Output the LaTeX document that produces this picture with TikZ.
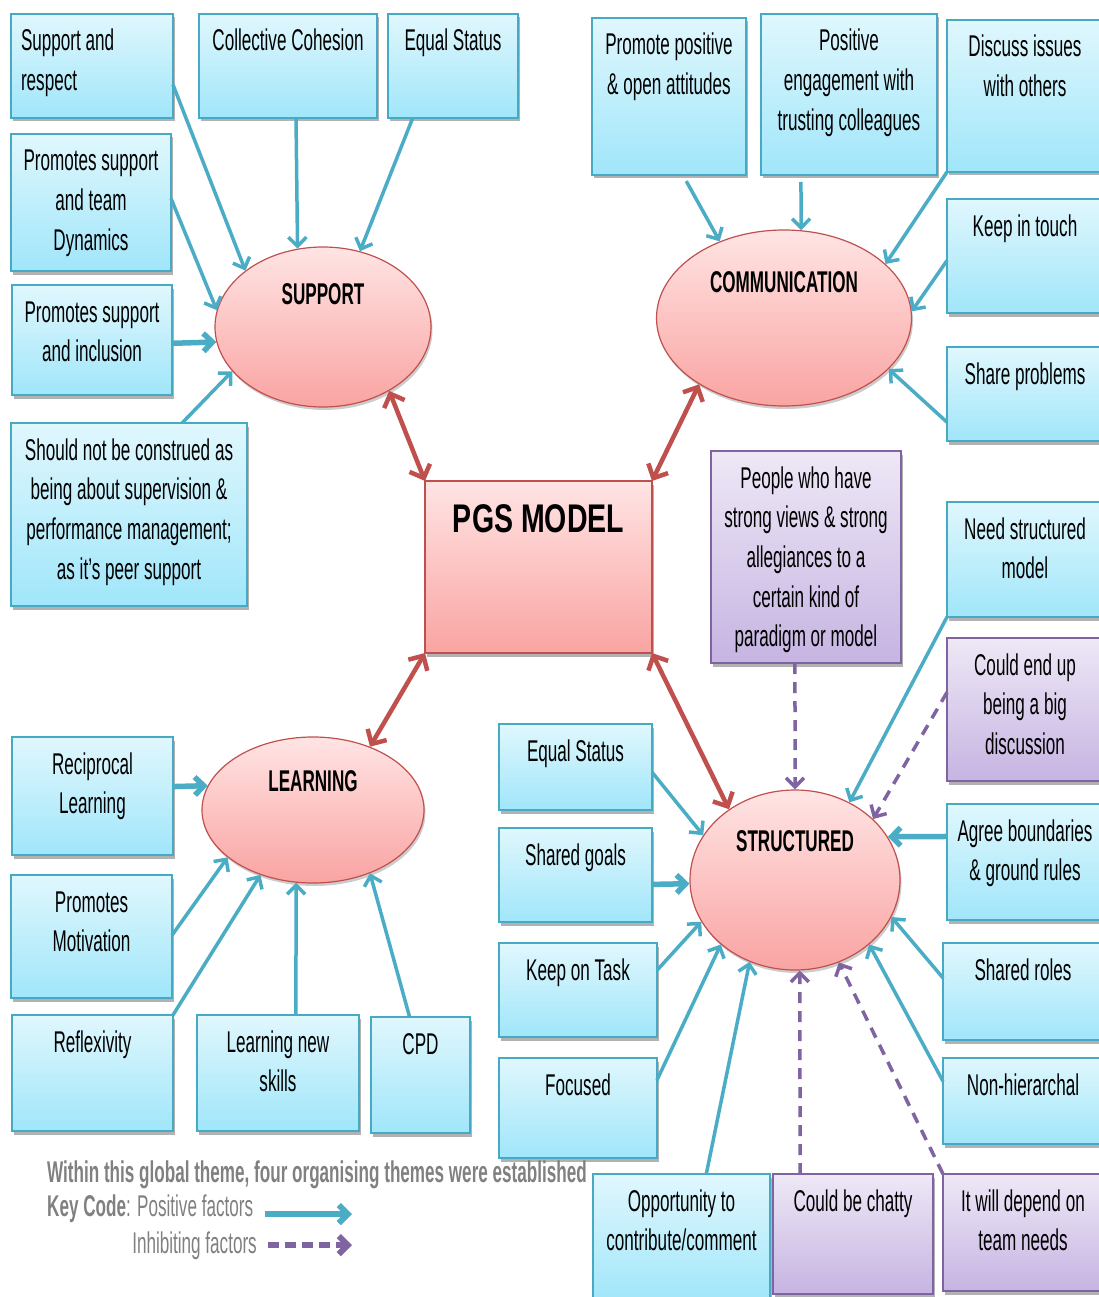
\documentclass[tikz,border=0pt]{standalone}
\usepackage{fontspec}
\setmainfont[FakeStretch=0.57]{Liberation Sans}
\usepackage{graphicx}
\usetikzlibrary{arrows.meta,shapes.geometric,shadows,calc}

\definecolor{bluetop}{RGB}{224,247,253}
\definecolor{bluebot}{RGB}{160,230,250}
\definecolor{bluedge}{RGB}{70,170,197}
\definecolor{purptop}{RGB}{238,232,246}
\definecolor{purpbot}{RGB}{198,180,226}
\definecolor{purpedge}{RGB}{128,100,162}
\definecolor{redtop}{RGB}{255,228,228}
\definecolor{redbot}{RGB}{249,164,162}
\definecolor{redge}{RGB}{192,80,77}
\definecolor{posline}{RGB}{75,172,198}
\definecolor{inhline}{RGB}{128,100,162}
\definecolor{linkred}{RGB}{192,80,77}
\definecolor{legendgray}{RGB}{128,128,128}

\tikzset{
  every node/.style={font=\fontsize{30}{39.7}\selectfont},
  softshadow/.style={drop shadow={shadow xshift=1.5pt, shadow yshift=-3.5pt, fill=black, opacity=0.3}},
  bluebox/.style={draw=bluedge, line width=1.6pt, top color=bluetop, bottom color=bluebot, softshadow},
  purpbox/.style={draw=purpedge, line width=1.6pt, top color=purptop, bottom color=purpbot, softshadow},
  pgsbox/.style={draw=redge, line width=1.2pt, top color=redtop, bottom color=redbot, softshadow},
  theme/.style={ellipse, draw=redge, line width=1.2pt, top color=redtop, bottom color=redbot, inner sep=0pt,
    drop shadow={shadow xshift=1.5pt, shadow yshift=-3pt, fill=black, opacity=0.2}},
  posarrow/.style={draw=posline, line width=3.5pt, -{Straight Barb[length=9pt,width=18pt]}},
  heavy/.style={line width=5.5pt},
  inharrow/.style={draw=inhline, line width=3.5pt, dash pattern=on 11pt off 8pt, -{Straight Barb[length=9pt,width=18pt]}},
  linkarrow/.style={draw=linkred, line width=4.5pt, {Straight Barb[length=11pt,width=22pt]}-{Straight Barb[length=11pt,width=22pt]}},
  keytext/.style={inner sep=0pt, text=legendgray, font=\fontsize{30}{34}\selectfont},
}

% #1 alignment, #2 style, #3 name, #4 x1, #5 y1, #6 x2, #7 y2, #8 text (top-aligned)
\newcommand{\tbox}[8][\centering]{%
  \node[#2, anchor=north west, inner sep=0pt, outer sep=0pt] (#3) at (#4,#5)
    {\begin{minipage}[c][\dimexpr#7pt-#5pt\relax][t]{\dimexpr#6pt-#4pt\relax}#1\rule{0pt}{37pt}#8\end{minipage}};}

\begin{document}
\begin{tikzpicture}[x=1pt, y=-1pt]
  \path[use as bounding box] (0,0) rectangle (1099,1297);
  \clip (0,0) rectangle (1099,1297);

  % ---------- SUPPORT ----------
  \tbox[\raggedright\leftskip=10pt\relax]{bluebox}{srespect}{11}{14}{173}{118}{Support and\\respect}
  \tbox{bluebox}{scohesion}{199}{14}{377}{118}{Collective Cohesion}
  \tbox{bluebox}{sequal}{388}{14}{518}{118}{Equal Status}
  \tbox{bluebox}{sdynamics}{11}{134}{171}{271}{Promotes support\\and team\\Dynamics}
  \tbox{bluebox}{sinclusion}{12}{285}{172}{395}{Promotes support\\and inclusion}
  \tbox{bluebox}{snotsup}{11}{423}{247}{606}{Should not be construed as\\being about supervision \&\\performance management;\\as it's peer support}
  \node[theme, minimum width=216pt, minimum height=160pt] (support) at (323,327)
    {\raisebox{23pt}[0pt][0pt]{\bfseries SUPPORT}};

  % ---------- COMMUNICATION ----------
  \tbox{bluebox}{cpromote}{592}{18}{746}{175}{Promote positive\\\& open attitudes}
  \tbox{bluebox}{cengage}{761}{14}{937}{175}{Positive\\engagement with\\trusting colleagues}
  \tbox{bluebox}{cdiscuss}{947}{20}{1103}{172}{Discuss issues\\with others}
  \tbox{bluebox}{ctouch}{947}{199}{1103}{313}{Keep in touch}
  \tbox{bluebox}{cshare}{947}{347}{1103}{441}{Share problems}
  \node[theme, minimum width=255pt, minimum height=176pt] (communication) at (784,318)
    {\raisebox{26pt}[0pt][0pt]{\bfseries COMMUNICATION}};

  % ---------- PGS MODEL ----------
  \tbox[\centering\vspace*{14pt}\fontsize{40}{48}\selectfont\bfseries]{pgsbox}{pgs}{425}{481}{652}{653}{\scalebox{1.25}[1]{PGS MODEL}}

  % ---------- STRUCTURED ----------
  \tbox{purpbox}{people}{711}{451}{901}{663}{People who have\\strong views \& strong\\allegiances to a\\certain kind of\\paradigm or model}
  \tbox{bluebox}{tneed}{947}{502}{1103}{617}{Need structured\\model}
  \tbox{purpbox}{tbigdisc}{947}{638}{1103}{781}{Could end up\\being a big\\discussion}
  \tbox{bluebox}{tagree}{947}{804}{1103}{920}{Agree boundaries\\\& ground rules}
  \tbox{bluebox}{troles}{943}{943}{1103}{1040}{Shared roles}
  \tbox{bluebox}{thier}{943}{1058}{1103}{1144}{Non-hierarchal}
  \tbox{purpbox}{tdepend}{943}{1174}{1103}{1291}{It will depend on\\team needs}
  \tbox{purpbox}{tchatty}{773}{1174}{933}{1294}{Could be chatty}
  \tbox{bluebox}{topport}{593}{1174}{770}{1302}{Opportunity to\\contribute/comment}
  \tbox{bluebox}{tequal}{499}{724}{652}{810}{Equal Status}
  \tbox{bluebox}{tgoals}{499}{828}{652}{922}{Shared goals}
  \tbox{bluebox}{ttask}{499}{943}{657}{1037}{Keep on Task}
  \tbox{bluebox}{tfocus}{499}{1058}{657}{1158}{Focused}
  \node[theme, minimum width=210pt, minimum height=180pt] (structured) at (795,880)
    {\raisebox{29pt}[0pt][0pt]{\bfseries STRUCTURED}};

  % ---------- LEARNING ----------
  \tbox{bluebox}{lrecip}{12}{737}{173}{855}{Reciprocal\\Learning}
  \tbox{bluebox}{lmotiv}{11}{875}{172}{998}{Promotes\\Motivation}
  \tbox{bluebox}{lreflex}{12}{1015}{173}{1131}{Reflexivity}
  \tbox{bluebox}{lnew}{197}{1015}{359}{1131}{Learning new\\skills}
  \tbox{bluebox}{lcpd}{371}{1017}{470}{1133}{CPD}
  \node[theme, minimum width=222pt, minimum height=146pt] (learning) at (313,810)
    {\raisebox{19pt}[0pt][0pt]{\bfseries LEARNING}};

  % ---------- links between the model and its themes ----------
  \draw[linkarrow] (pgs.north west) -- (support.316);
  \draw[linkarrow] (pgs.north east) -- (communication.218);
  \draw[linkarrow] (pgs.south west) -- (learning.48);
  \draw[linkarrow] (pgs.south east) -- (structured.133);

  % ---------- support factors ----------
  \draw[posarrow] ($(srespect.north east)!0.68!(srespect.south east)$) -- (support.144);
  \draw[posarrow] ($(scohesion.south west)!0.545!(scohesion.south east)$) -- (support.108);
  \draw[posarrow] ($(sequal.south west)!0.19!(sequal.south east)$) -- (support.64);
  \draw[posarrow] ($(sdynamics.north east)!0.47!(sdynamics.south east)$) -- (support.171);
  \draw[posarrow, heavy] ($(sinclusion.north east)!0.53!(sinclusion.south east)$) -- (support.188);
  \draw[posarrow] ($(snotsup.north west)!0.725!(snotsup.north east)$) -- (support.206);

  % ---------- communication factors ----------
  \draw[posarrow, shorten <=7pt] ($(cpromote.south west)!0.59!(cpromote.south east)$) -- (communication.130);
  \draw[posarrow, shorten <=7pt] ($(cengage.south west)!0.227!(cengage.south east)$) -- (communication.79);
  \draw[posarrow] (cdiscuss.south west) -- (communication.28);
  \draw[posarrow] ($(ctouch.north west)!0.54!(ctouch.south west)$) -- (communication.3);
  \draw[posarrow] ($(cshare.north west)!0.8!(cshare.south west)$) -- (communication.334);

  % ---------- structured factors ----------
  \draw[inharrow] ($(people.south west)!0.442!(people.south east)$) -- (structured.90);
  \draw[posarrow] (tneed.south west) -- (structured.55);
  \draw[inharrow] ($(tbigdisc.north west)!0.38!(tbigdisc.south west)$) -- (structured.38);
  \draw[posarrow, heavy] ($(tagree.north west)!0.28!(tagree.south west)$) -- (structured.25);
  \draw[posarrow] ($(troles.north west)!0.36!(troles.south west)$) -- (structured.339);
  \draw[posarrow] ($(thier.north west)!0.27!(thier.south west)$) -- (structured.319);
  \draw[inharrow] (tdepend.north west) -- (structured.298);
  \draw[inharrow] ($(tchatty.north west)!0.17!(tchatty.north east)$) -- (structured.273);
  \draw[posarrow] ($(topport.north west)!0.64!(topport.north east)$) -- (structured.241);
  \draw[posarrow] ($(tfocus.north east)!0.22!(tfocus.south east)$) -- (structured.221);
  \draw[posarrow] ($(ttask.north east)!0.29!(ttask.south east)$) -- (structured.204);
  \draw[posarrow, heavy] ($(tgoals.north east)!0.6!(tgoals.south east)$) -- (structured.182);
  \draw[posarrow] ($(tequal.north east)!0.56!(tequal.south east)$) -- (structured.154);

  % ---------- learning factors ----------
  \draw[posarrow, heavy] ($(lrecip.north east)!0.42!(lrecip.south east)$) -- (learning.167);
  \draw[posarrow] ($(lmotiv.north east)!0.49!(lmotiv.south east)$) -- (learning.209);
  \draw[posarrow] (lreflex.north east) -- (learning.231);
  \draw[posarrow] ($(lnew.north west)!0.61!(lnew.north east)$) -- (learning.257);
  \draw[posarrow] ($(lcpd.north west)!0.39!(lcpd.north east)$) -- (learning.312);

  % ---------- key ----------
  \node[keytext, anchor=west, font=\fontsize{30}{34}\selectfont\bfseries] (keytitle) at (47,1175)
    {Within this global theme, four organising themes were established};
  \node[keytext, anchor=west] (keypos) at (47,1209)
    {\textbf{Key Code}: Positive factors};
  \node[keytext, anchor=east] (keyinh) at (257,1246)
    {Inhibiting factors};
  \coordinate (kposa) at (265,1214);
  \coordinate (kposb) at (352,1214);
  \coordinate (kinha) at (268,1245);
  \coordinate (kinhb) at (352,1245);
  \draw[posarrow, line width=6pt] (kposa) -- (kposb);
  \draw[inharrow, line width=6pt, dash pattern=on 11pt off 6pt] (kinha) -- (kinhb);
\end{tikzpicture}
\end{document}
